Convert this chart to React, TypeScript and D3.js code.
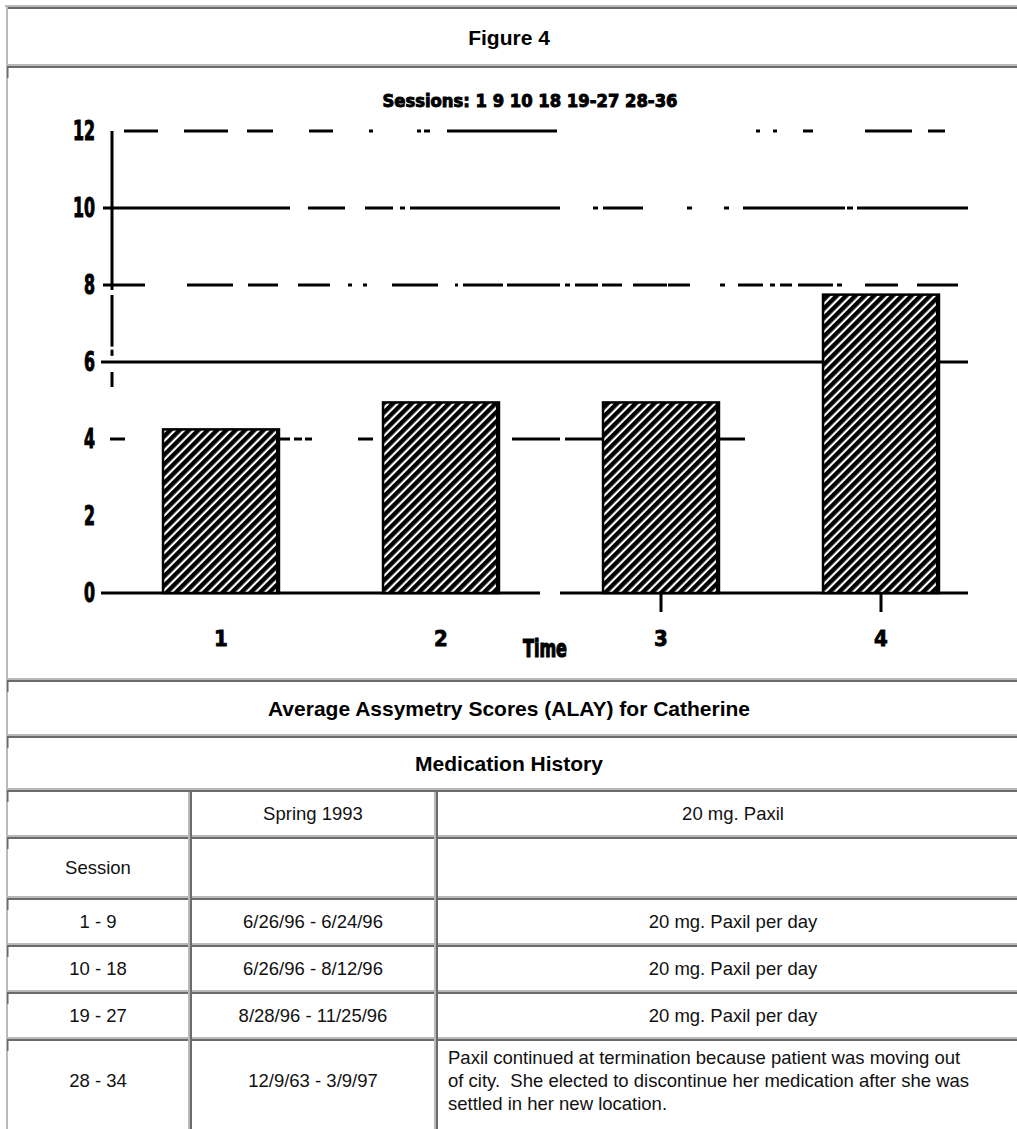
import React from "react";
import * as d3 from "d3";

// ---------- data ----------
const TIMES = ["1", "2", "3", "4"];
const ALAY_SCORES = [4.25, 4.95, 4.95, 7.75];
const Y_TICKS = [0, 2, 4, 6, 8, 10, 12];
const X_TICKED = ["3", "4"];
const CHART_TITLE = "Sessions: 1 9 10 18 19-27 28-36";
const X_LABEL = "Time";

const FIGURE_TITLE = "Figure 4";
const CAPTION = "Average Assymetry Scores (ALAY) for Catherine";
const TABLE_TITLE = "Medication History";
const SESSIONS = ["", "Session", "1 - 9", "10 - 18", "19 - 27", "28 - 34"];
const DATES = ["Spring 1993", "", "6/26/96 - 6/24/96", "6/26/96 - 8/12/96", "8/28/96 - 11/25/96", "12/9/63 - 3/9/97"];
const MEDICATION = [
  ["20 mg. Paxil"],
  [""],
  ["20 mg. Paxil per day"],
  ["20 mg. Paxil per day"],
  ["20 mg. Paxil per day"],
  [
    "Paxil continued at termination because patient was moving out",
    "of city.  She elected to discontinue her medication after she was",
    "settled in her new location.",
  ],
];

// ---------- gridline styles (value, start, end, dash) ----------
const GRID_STYLES = [
  { v: 12, x0: 124, x1: 945, dash: "34,26,44,19,26,36,24,36,4,44,4,3,6,17,110,199,4,13,4,26,10,52,47,16,17,100" },
  { v: 10, x0: 103, x1: 968, dash: "187,18,37,20,28,7,5,5,150,33,5,5,40,44,5,32,5,14,102,2,6,4,111,100" },
  { v: 8, x0: 103, x1: 958, dash: "42,42,46,15,30,20,32,18,4,11,4,25,46,17,3,5,40,4,53,5,5,5,23,4,20,11,34,1,22,30,5,13,25,7,5,5,12,6,35,4,5,23,33,19,41,100" },
  { v: 6, x0: 101, x1: 968, dash: "" },
  { v: 4, x0: 110, x1: 745, dash: "15,154,11,4,8,3,7,46,15,139,48,5,180,100" },
  { v: 0, x0: 101, x1: 968, dash: "439,20,408,100" },
];
const AXIS_SEGMENTS = [[12, 7.87], [7.74, 6.4], [6.32, 6.16], [5.74, 5.35]];

const W = 1017;
const H = 1129;
const TABLE_L = 6;
const TABLE_R = 1030;
const HEAD_CX = 509;
const ROW_Y = [6, 66, 680, 736, 790, 837, 898, 945, 992, 1039, 1140];
const COL_X = [TABLE_L, 190, 436, TABLE_R];

const LIGHT = "#b9b9b9";
const DARK = "#6b6b6b";
const SANS = "'Liberation Sans', Arial, sans-serif";
const BLOCK = "'Liberation Sans Narrow', 'DejaVu Sans Condensed', 'Liberation Sans', sans-serif";

export default function App() {
  const y = d3.scaleLinear().domain([0, 12]).range([593, 131]);
  const x = d3
    .scaleBand<string>()
    .domain(TIMES)
    .range([111, 991])
    .paddingInner(0.473)
    .paddingOuter(0.2365);
  const cx = (d: string) => (x(d) as number) + x.bandwidth() / 2;

  const rowSep = (yy: number, x0: number, x1: number, key: string) => (
    <g key={key}>
      <rect x={x0} y={yy - 2} width={x1 - x0} height={2} fill={LIGHT} />
      <rect x={x0} y={yy} width={x1 - x0} height={2} fill={DARK} />
    </g>
  );
  const colSep = (xx: number, y0: number, y1: number, key: string) => (
    <g key={key}>
      <rect x={xx - 2} y={y0} width={2} height={y1 - y0} fill={LIGHT} />
      <rect x={xx} y={y0} width={2} height={y1 - y0} fill={DARK} />
    </g>
  );

  const lowerTop = ROW_Y[4];

  return (
    <div style={{ position: "absolute", left: 0, top: 0, width: W, height: H, overflow: "hidden", background: "#fff" }}>
      <svg width={W} height={H} viewBox={`0 0 ${W} ${H}`} style={{ display: "block" }}>
        <defs>
          <pattern id="hatch" patternUnits="userSpaceOnUse" width={6.6} height={10} patternTransform="rotate(45)">
            <rect x={0} y={0} width={6.6} height={10} fill="#fff" />
            <rect x={0} y={0} width={4.4} height={10} fill="#000" />
          </pattern>
        </defs>
        <rect x={0} y={0} width={W} height={H} fill="#fff" />

        {/* ---------- table borders ---------- */}
        <rect x={TABLE_L - 1} y={5} width={TABLE_R - TABLE_L} height={2} fill={LIGHT} />
        <rect x={TABLE_L + 1} y={7} width={TABLE_R - TABLE_L} height={2} fill={DARK} />
        <rect x={TABLE_L} y={5} width={2} height={H} fill={LIGHT} />
        {ROW_Y.slice(1, -1).map((ry, i) => rowSep(ry, TABLE_L + 1, TABLE_R, "r" + i))}
        {ROW_Y.slice(1, -1).map((ry, i) => (
          <rect key={"stub" + i} x={TABLE_L + 1} y={ry} width={1.5} height={12} fill={DARK} />
        ))}
        {COL_X.slice(1, -1).map((cxp, i) => colSep(cxp, lowerTop + 2, H, "c" + i))}

        {/* ---------- header texts ---------- */}
        <text x={HEAD_CX} y={45} textAnchor="middle" fontFamily={SANS} fontWeight="bold" fontSize={21} fill="#000">
          {FIGURE_TITLE}
        </text>
        <text x={HEAD_CX} y={716} textAnchor="middle" fontFamily={SANS} fontWeight="bold" fontSize={21} fill="#000">
          {CAPTION}
        </text>
        <text x={HEAD_CX} y={771} textAnchor="middle" fontFamily={SANS} fontWeight="bold" fontSize={21} fill="#000">
          {TABLE_TITLE}
        </text>

        {/* ---------- lower table body ---------- */}
        {SESSIONS.map((s, i) => {
          const top = ROW_Y[4 + i];
          const bot = i === SESSIONS.length - 1 ? 1121 : ROW_Y[5 + i];
          const mid = (top + bot) / 2;
          const lines = MEDICATION[i];
          return (
            <g key={"row" + i} fontFamily={SANS} fontSize={18.5} fill="#111">
              <text x={(COL_X[0] + COL_X[1]) / 2} y={mid + 6.5} textAnchor="middle">
                {s}
              </text>
              <text x={(COL_X[1] + COL_X[2]) / 2} y={mid + 6.5} textAnchor="middle">
                {DATES[i]}
              </text>
              {lines.length === 1 ? (
                <text x={(COL_X[2] + COL_X[3]) / 2} y={mid + 6.5} textAnchor="middle">
                  {lines[0]}
                </text>
              ) : (
                lines.map((ln, j) => (
                  <text key={j} x={448} y={mid + 6.5 + (j - 1) * 23} style={{ whiteSpace: "pre" }}>
                    {ln}
                  </text>
                ))
              )}
            </g>
          );
        })}

        {/* ---------- chart ---------- */}
        <text
          x={530}
          y={107}
          textAnchor="middle"
          fontFamily={BLOCK}
          fontWeight="bold"
          fontSize={18}
          stroke="#000"
          strokeWidth={0.9}
          textLength={295}
          lengthAdjust="spacingAndGlyphs"
        >
          {CHART_TITLE}
        </text>

        {/* gridlines */}
        {GRID_STYLES.map((g) => (
          <line
            key={"g" + g.v}
            x1={g.x0}
            x2={g.x1}
            y1={y(g.v)}
            y2={y(g.v)}
            stroke="#000"
            strokeWidth={3}
            strokeDasharray={g.dash || undefined}
          />
        ))}

        {/* y axis */}
        {AXIS_SEGMENTS.map(([a, b], i) => (
          <line key={"ax" + i} x1={112} x2={112} y1={y(a)} y2={y(b)} stroke="#000" strokeWidth={3} />
        ))}

        {/* y tick labels */}
        {Y_TICKS.map((t) => (
          <text
            key={"yt" + t}
            x={95}
            y={y(t) + 9}
            textAnchor="end"
            fontFamily={BLOCK}
            fontWeight="bold"
            fontSize={26}
            stroke="#000"
            strokeWidth={1}
            textLength={String(t).length * 11}
            lengthAdjust="spacingAndGlyphs"
          >
            {t}
          </text>
        ))}

        {/* bars */}
        {TIMES.map((t, i) => (
          <g key={"b" + t}>
            <rect
              x={x(t)}
              y={y(ALAY_SCORES[i])}
              width={x.bandwidth()}
              height={y(0) - y(ALAY_SCORES[i])}
              fill="url(#hatch)"
              stroke="#000"
              strokeWidth={2.5}
            />
            <line
              x1={(x(t) as number) + x.bandwidth() - 1}
              x2={(x(t) as number) + x.bandwidth() - 1}
              y1={y(ALAY_SCORES[i])}
              y2={y(0)}
              stroke="#000"
              strokeWidth={4}
            />
          </g>
        ))}

        {/* x ticks */}
        {X_TICKED.map((t) => (
          <line key={"xt" + t} x1={cx(t)} x2={cx(t)} y1={y(0)} y2={y(0) + 19} stroke="#000" strokeWidth={3} />
        ))}

        {/* x labels */}
        {TIMES.map((t) => (
          <text
            key={"xl" + t}
            x={cx(t)}
            y={646}
            textAnchor="middle"
            fontFamily={BLOCK}
            fontWeight="bold"
            fontSize={22}
            stroke="#000"
            strokeWidth={0.8}
          >
            {t}
          </text>
        ))}
        <text
          x={545}
          y={657}
          textAnchor="middle"
          fontFamily={BLOCK}
          fontWeight="bold"
          fontSize={24}
          stroke="#000"
          strokeWidth={1.2}
          textLength={44}
          lengthAdjust="spacingAndGlyphs"
        >
          {X_LABEL}
        </text>
      </svg>
    </div>
  );
}
